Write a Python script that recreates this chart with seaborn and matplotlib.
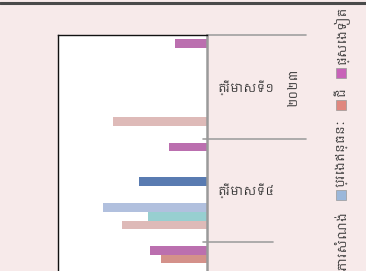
import matplotlib
matplotlib.use('Agg')
import pandas as pd
import seaborn as sns
import matplotlib.pyplot as plt
from matplotlib import font_manager
from matplotlib.lines import Line2D
from matplotlib.patches import Rectangle

# Chart data (axis 0-100)
quarters = ['ត្រីមាសទី១', 'ត្រីមាសទី៤', 'ត្រីមាសទី៣']
year_label = '២០២៣'
sources = ['ផ្សេងទៀត', 'ជី', 'ប្រេងឥន្ធនៈ', 'សម្ភារសំណង់', 'យានយន្ត',
           'គ្រឿងចក្រ', 'ឱសថ', 'មាស', 'វាយនភណ្ឌ', 'ម្ហូបអាហារ', 'អេឡិចត្រូនិច']
q1_values = [21.5, 0, 0, 0, 0, 0, 0, 0, 0, 63, 0]
q4_values = [25.5, 0, 0, 0, 45.6, 0, 0, 70, 39.6, 57, 0]
q3_values = [38, 31, 0, 0, 0, 0, 0, 0, 0, 0, 0]
colors = ['#c862b8', '#e0877e', '#9bb7da', '#b8a0cc', '#4a78c0', '#9cc85a',
          '#f0a050', '#a9bde6', '#8dd8da', '#e4b4b2', '#c0c0c0']

sns.set_style("white")
khmer = sorted({f.name for f in font_manager.fontManager.ttflist if 'khmer' in f.name.lower()})
plt.rcParams['font.family'] = khmer[:1] + ['DejaVu Sans']

df = pd.DataFrame({
    'quarter': [q for q in quarters for _ in sources],
    'source': sources * len(quarters),
    'value': q1_values + q4_values + q3_values,
})

W, H = 366, 271
bg = '#f7eaea'
fig = plt.figure(figsize=(W / 100, H / 100), dpi=100, facecolor=bg)
ax = fig.add_axes([58 / W, 0, (207 - 58) / W, 1 - 35 / H])
ax.set_facecolor('white')

sns.barplot(data=df, x='value', y='quarter', hue='source', hue_order=sources,
            order=quarters, palette=colors, orient='h', width=0.92, gap=0,
            linewidth=0, legend=False, ax=ax)

ax.set_xlim(100, 0)
ax.set_ylim(-0.5 + (H - 35) / 103.5, -0.5)
ax.set_xlabel('')
ax.set_ylabel('')
ax.set_xticks([])
ax.yaxis.tick_right()
ax.tick_params(axis='y', length=0, pad=8, labelsize=8.4, labelcolor='#333333')
for side in ['left', 'top']:
    ax.spines[side].set_color('#111111')
    ax.spines[side].set_linewidth(1)
ax.spines['bottom'].set_visible(False)
ax.spines['right'].set_color('#9a9a9a')
ax.spines['right'].set_linewidth(1.8)

# multi-level category separators
tr = ax.get_yaxis_transform()
sep_color = '#a0a0a0'
ax.plot([1.0, 1.664], [-0.5, -0.5], transform=tr, color=sep_color, lw=1.2, clip_on=False)
ax.plot([0.973, 1.664], [0.5, 0.5], transform=tr, color=sep_color, lw=1.2, clip_on=False)
ax.plot([0.973, 1.443], [1.5, 1.5], transform=tr, color=sep_color, lw=1.2, clip_on=False)
ax.text(1.58, 0.0, year_label, transform=tr, rotation=90, ha='center', va='center',
        fontsize=8.4, color='#333333')

# top frame line
fig.add_artist(Line2D([0, 1], [1 - 3 / H, 1 - 3 / H], transform=fig.transFigure,
                      color='#4a4a4a', lw=2.2))

# rotated legend down the right edge
renderer = fig.canvas.get_renderer()
y_px = 6
for name, col in zip(sources, colors):
    t = fig.text(341 / W, 1 - y_px / H, name, rotation=90, ha='center', va='top',
                 fontsize=8.6, color='#333333')
    ext = t.get_window_extent(renderer)
    y_px += ext.height + 3
    fig.add_artist(Rectangle((336 / W, 1 - (y_px + 10) / H), 10 / W, 10 / H,
                             transform=fig.transFigure, facecolor=col,
                             edgecolor='#999999', lw=0.5))
    y_px += 10 + 10

fig.savefig('out.png', dpi=100, facecolor=bg)
